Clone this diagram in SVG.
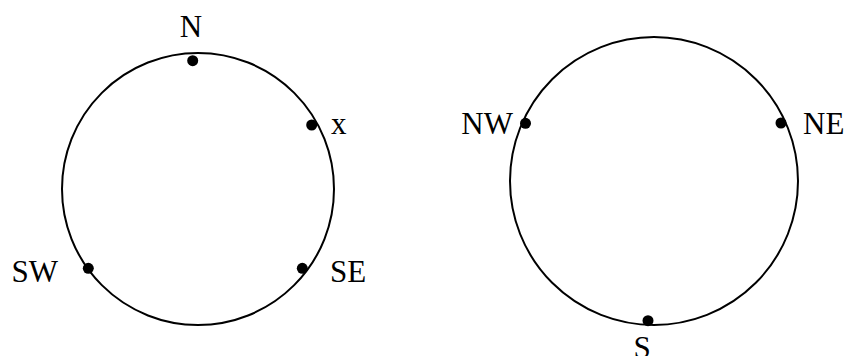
<svg xmlns="http://www.w3.org/2000/svg" width="845" height="356" viewBox="0 0 845 356">
<style>
.ring{fill:none;stroke:#000;stroke-width:2}
.dot{fill:#000}
text{font-family:"Liberation Serif","Times New Roman",serif;font-size:31px;fill:#000}
</style>
<rect width="845" height="356" fill="#fff"/>
<g id="left-circle"><circle class="ring" cx="198" cy="189" r="136"/></g>
<g id="right-circle"><circle class="ring" cx="654" cy="181" r="144"/></g>
<g id="node-N"><circle class="dot" cx="192.7" cy="60.7" r="5.5"/><text x="191" y="37" text-anchor="middle">N</text></g>
<g id="node-x"><circle class="dot" cx="311.7" cy="125" r="5.5"/><text x="331" y="134">x</text></g>
<g id="node-SW"><circle class="dot" cx="88.3" cy="268.3" r="5.5"/><text x="58" y="282" text-anchor="end">SW</text></g>
<g id="node-SE"><circle class="dot" cx="302.3" cy="268.3" r="5.5"/><text x="330" y="282">SE</text></g>
<g id="node-NW"><circle class="dot" cx="525.5" cy="123.3" r="5.5"/><text x="513" y="134" text-anchor="end">NW</text></g>
<g id="node-NE"><circle class="dot" cx="781" cy="123" r="5.5"/><text x="803" y="134">NE</text></g>
<g id="node-S"><circle class="dot" cx="648" cy="320.7" r="5.5"/><text x="642" y="358" text-anchor="middle">S</text></g>
<g id="connectors"></g>
</svg>
